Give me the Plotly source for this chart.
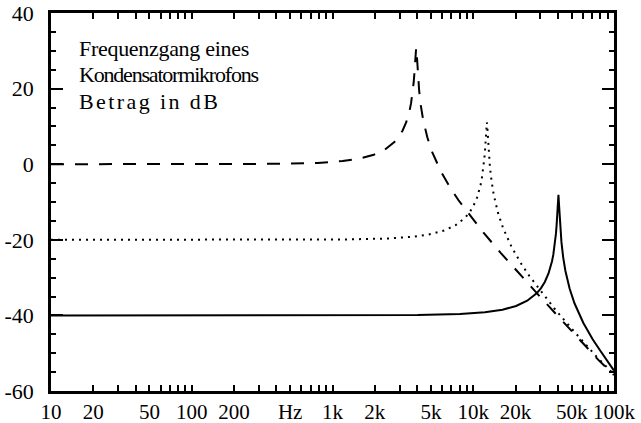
import plotly.graph_objects as go

# Frequenzgang eines Kondensatormikrofons
freq_dashed = [10, 100, 393, 786, 1179, 1572, 1965, 2358, 2751, 2948, 3144, 3341, 3458, 3537,
               3616, 3694, 3773, 3812, 3851, 3891, 3930, 3969, 4009, 4048, 4127, 4244, 4402,
               4716, 5109, 5895, 6878, 7860, 9825, 11790, 15720, 19650, 23580, 31440, 39300,
               51090, 62880, 78600, 100000]
db_dashed = [0.0, 0.0, 0.09, 0.35, 0.82, 1.51, 2.50, 3.88, 5.84, 7.17, 8.86, 11.10, 12.88, 14.35,
             16.14, 18.46, 21.62, 23.73, 26.33, 29.30, 30.8, 29.16, 26.09, 23.42, 19.44, 15.44, 11.82,
             7.11, 3.21, -1.94, -6.29, -9.54, -14.40, -18.06, -23.52, -27.60, -30.88, -35.99, -39.91,
             -44.51, -48.13, -52.02, -55.8]

freq_dotted = [10, 1000, 1250, 2500, 3750, 5000, 6250, 7500, 8750, 9375, 10000, 10625, 11000,
               11250, 11500, 11750, 12000, 12125, 12250, 12375, 12500, 12625, 12750, 12875,
               13125, 13500, 14000, 15000, 16250, 18750, 21875, 25000, 31250, 37500, 50000,
               62500, 75000, 100000]
db_dotted = [-20.0, -19.94, -19.91, -19.65, -19.18, -18.49, -17.50, -16.12, -14.16, -12.83, -11.14,
             -8.90, -7.12, -5.65, -3.86, -1.54, 1.62, 3.73, 6.33, 9.30, 11.1, 9.16, 6.09, 3.42,
             -0.56, -4.56, -8.18, -12.89, -16.79, -21.94, -26.29, -29.54, -34.40, -38.06, -43.52,
             -47.60, -50.88, -55.6]

freq_solid = [10, 4030, 8060, 12090, 16120, 20150, 24180, 28210, 30225, 32240, 34255, 35464,
              36270, 37076, 37882, 38688, 39091, 39494, 39897, 40300, 40703, 41106, 41509,
              42315, 43524, 45136, 48360, 52390, 60450, 70525, 80600, 100000]
db_solid = [-40.0, -39.91, -39.65, -39.18, -38.49, -37.50, -36.12, -34.16, -32.83, -31.14, -28.90,
            -27.12, -25.65, -23.86, -21.54, -18.38, -16.27, -13.67, -10.70, -8.1, -10.84, -13.91,
            -16.58, -20.56, -24.56, -28.18, -32.89, -36.79, -41.94, -46.29, -49.54, -54.6]

x_tickvals = [10, 20, 50, 100, 200, 500, 1000, 2000, 5000, 10000, 20000, 50000, 100000]
x_ticktext = ["10", "20", "50", "100", "200", "Hz", "1k", "2k", "5k", "10k", "20k", "50k", "100k"]
y_tickvals = [-60, -40, -20, 0, 20, 40]
y_ticktext = ["-60", "-40", "-20", "0", "20", "40"]

title_lines = ["Frequenzgang eines", "Kondensatormikrofons", "Betrag in dB"]
title_spacing = ["-0.3px", "-1.2px", "2.4px"]
title_y = [0.907, 0.836, 0.767]

FONT = "Liberation Serif, Times New Roman, serif"

fig = go.Figure()
fig.add_trace(go.Scatter(x=freq_dashed, y=db_dashed, mode="lines",
                         line=dict(color="black", width=2, dash="13px,11px"), showlegend=False))
fig.add_trace(go.Scatter(x=freq_dotted, y=db_dotted, mode="lines",
                         line=dict(color="black", width=2, dash="2px,5px"), showlegend=False))
fig.add_trace(go.Scatter(x=freq_solid, y=db_solid, mode="lines",
                         line=dict(color="black", width=2), showlegend=False))

for line, sp, yy in zip(title_lines, title_spacing, title_y):
    fig.add_annotation(text='<span style="letter-spacing:%s">%s</span>' % (sp, line),
                       xref="paper", yref="paper", x=0.047, y=yy,
                       xanchor="left", yanchor="middle", align="left", showarrow=False,
                       font=dict(family=FONT, size=22, color="black"))

fig.update_layout(
    width=641, height=423,
    margin=dict(l=51, r=27, t=13, b=32, autoexpand=False),
    paper_bgcolor="white", plot_bgcolor="white",
    font=dict(family=FONT, size=22, color="black"),
)
fig.update_xaxes(
    type="log", range=[1, 5], tickmode="array", tickvals=x_tickvals, ticktext=x_ticktext,
    tickangle=0, ticks="inside", ticklen=6, tickwidth=2, tickcolor="black",
    showline=True, linewidth=2.5, linecolor="black", mirror="allticks",
    showgrid=False, zeroline=False, ticklabelstandoff=0, automargin=False,
    tickfont=dict(size=21),
    minor=dict(ticks="inside", ticklen=6, tickwidth=2, tickcolor="black", dtick="D1", showgrid=False),
)
fig.update_yaxes(
    range=[-60, 40], tickmode="array", tickvals=y_tickvals, ticktext=y_ticktext,
    ticks="inside", ticklen=12, tickwidth=2, tickcolor="black",
    showline=True, linewidth=2.5, linecolor="black", mirror="allticks",
    showgrid=False, zeroline=False, ticklabelstandoff=10, automargin=False,
    minor=dict(ticks="inside", ticklen=5, tickwidth=2, tickcolor="black", dtick=5, showgrid=False),
)

fig.write_html("out.html")
